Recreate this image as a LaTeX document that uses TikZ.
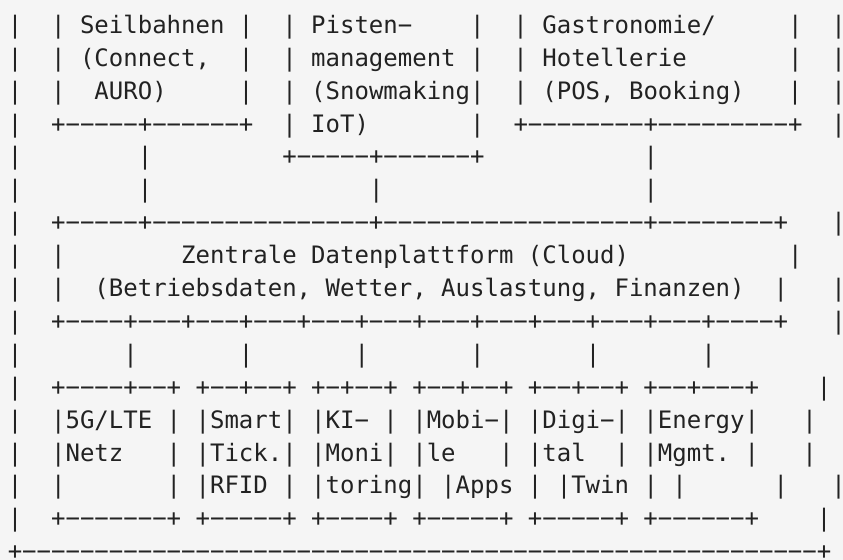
\documentclass[tikz,border=0pt]{standalone}
\usepackage{fontspec}
\setmonofont{DejaVu Sans Mono}
\usepackage{tikz}
\definecolor{pageBg}{RGB}{245, 245, 245}
\definecolor{artInk}{RGB}{34, 34, 34}
\frenchspacing

\begin{document}
\begin{tikzpicture}[x=1pt, y=1pt,
  artrow/.style={anchor=base west, inner sep=0pt, outer sep=0pt, text=artInk,
                 font=\ttfamily\fontsize{18}{24}\selectfont}]
  % page with its margins
  \fill[pageBg] (0, 0) rectangle (632.25, -420);
  \useasboundingbox (0, 0) rectangle (632.25, -420);
  % subsystems on top
  \node[artrow] (row1) at (5.84, -24.98) {|~~| Seilbahnen |~~| Pisten−~~~~|~~| Gastronomie/~~~~~|~~|};
  \node[artrow] (row2) at (5.84, -49.66) {|~~| (Connect,~~|~~| management |~~| Hotellerie~~~~~~~|~~|};
  \node[artrow] (row3) at (5.84, -74.33) {|~~|~~AURO)~~~~~|~~| (Snowmaking|~~| (POS, Booking)~~~|~~|};
  \node[artrow] (row4) at (5.84, -99.01) {|~~+−−−−−+−−−−−−+~~| IoT)~~~~~~~|~~+−−−−−−−−+−−−−−−−−−+~~|};
  \node[artrow] (row5) at (5.84, -123.68) {|~~~~~~~~|~~~~~~~~~+−−−−−+−−−−−−+~~~~~~~~~~~|};
  \node[artrow] (row6) at (5.84, -148.36) {|~~~~~~~~|~~~~~~~~~~~~~~~|~~~~~~~~~~~~~~~~~~|};
  % central platform
  \node[artrow] (row7) at (5.84, -173.03) {|~~+−−−−−+−−−−−−−−−−−−−−−+−−−−−−−−−−−−−−−−−−+−−−−−−−−+~~~|};
  \node[artrow] (row8) at (5.84, -197.71) {|~~|~~~~~~~~Zentrale Datenplattform (Cloud)~~~~~~~~~~~|};
  \node[artrow] (row9) at (5.84, -222.38) {|~~|~~(Betriebsdaten, Wetter, Auslastung, Finanzen)~~|~~~|};
  \node[artrow] (row10) at (5.84, -247.06) {|~~+−−−−+−−−+−−−+−−−+−−−+−−−+−−−+−−−+−−−+−−−+−−−+−−−−+~~~|};
  \node[artrow] (row11) at (5.84, -271.73) {|~~~~~~~|~~~~~~~|~~~~~~~|~~~~~~~|~~~~~~~|~~~~~~~|};
  % services below
  \node[artrow] (row12) at (5.84, -296.41) {|~~+−−−−+−−+ +−−+−−+ +−+−−+ +−−+−−+ +−−+−−+ +−−+−−−+~~~~|};
  \node[artrow] (row13) at (5.84, -321.08) {|~~|5G/LTE | |Smart| |KI− | |Mobi−| |Digi−| |Energy|~~~|};
  \node[artrow] (row14) at (5.84, -345.76) {|~~|Netz~~~| |Tick.| |Moni| |le~~~| |tal~~| |Mgmt. |~~~|};
  \node[artrow] (row15) at (5.84, -370.43) {|~~|~~~~~~~| |RFID | |toring| |Apps | |Twin | |~~~~~~|~~~|};
  \node[artrow] (row16) at (5.84, -395.11) {|~~+−−−−−−−+ +−−−−−+ +−−−−+ +−−−−−+ +−−−−−+ +−−−−−−+~~~~|};
  \node[artrow] (row17) at (5.84, -419.78) {+−−−−−−−−−−−−−−−−−−−−−−−−−−−−−−−−−−−−−−−−−−−−−−−−−−−−−−−+};
\end{tikzpicture}
\end{document}
